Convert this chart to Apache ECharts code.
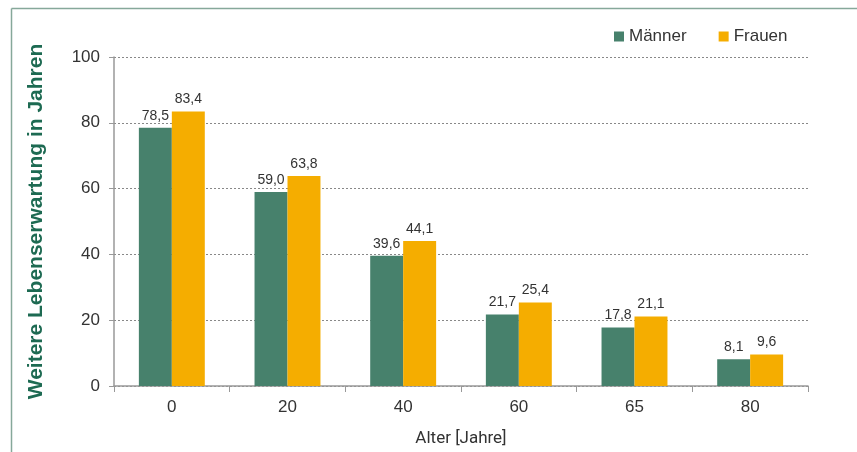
<!DOCTYPE html>
<html><head><meta charset="utf-8">
<script src="https://cdn.jsdelivr.net/npm/echarts@6/dist/echarts.min.js"></script>
<style>html,body{margin:0;padding:0;background:#fff}#c{width:857px;height:452px}</style>
</head><body><div id="c"></div>
<script>
const categories = ['0', '20', '40', '60', '65', '80'];
const maenner = [78.5, 59.0, 39.6, 21.7, 17.8, 8.1];
const frauen = [83.4, 63.8, 44.1, 25.4, 21.1, 9.6];
const seriesNames = ['Männer', 'Frauen'];

const chart = echarts.init(document.getElementById('c'), null, {renderer: 'canvas'});
const fmt = p => p.value.toFixed(1).replace('.', ',');
const lbl = {show: true, position: 'top', distance: 5, fontSize: 14, color: '#333', fontFamily: 'Liberation Sans', formatter: fmt};
chart.setOption({
  animation: false,
  graphic: [
    {type: 'line', shape: {x1: 11.5, y1: 8.5, x2: 857, y2: 8.5}, style: {stroke: '#86a89a', lineWidth: 1.5}},
    {type: 'line', shape: {x1: 11.5, y1: 8.5, x2: 11.5, y2: 452}, style: {stroke: '#86a89a', lineWidth: 1.5}}
  ],
  legend: {
    left: 609, top: 23, icon: 'rect', itemWidth: 10, itemHeight: 10, itemGap: 32,
    textStyle: {fontSize: 17, color: '#333', fontFamily: 'Liberation Sans'},
    data: seriesNames
  },
  grid: {left: 114, right: 49, top: 57, bottom: 66},
  xAxis: {
    type: 'category', data: categories,
    name: 'Alter [Jahre]', nameLocation: 'middle', nameGap: 44,
    nameTextStyle: {fontSize: 17, color: '#333', fontFamily: 'Roboto'},
    axisLine: {lineStyle: {color: '#999', width: 1.5}},
    axisTick: {show: true, length: 6, lineStyle: {color: '#999'}},
    axisLabel: {fontSize: 17, color: '#333', fontFamily: 'Liberation Sans', margin: 13}
  },
  yAxis: {
    type: 'value', min: 0, max: 100, interval: 20,
    name: 'Weitere Lebenserwartung in Jahren', nameLocation: 'middle', nameRotate: 90, nameGap: 67,
    nameTextStyle: {fontSize: 21, fontWeight: 'bold', color: '#1d6a52', fontFamily: 'Liberation Sans'},
    axisLine: {show: true, lineStyle: {color: '#999', width: 1.5}},
    axisTick: {show: true, length: 5, lineStyle: {color: '#999'}},
    axisLabel: {fontSize: 17, color: '#333', fontFamily: 'Liberation Sans', margin: 14},
    splitLine: {lineStyle: {color: '#888', type: [2, 2], width: 1}}
  },
  series: [
    {name: seriesNames[0], type: 'bar', data: maenner, barGap: '0%', barCategoryGap: '43%',
     itemStyle: {color: '#47816c'}, label: lbl},
    {name: seriesNames[1], type: 'bar', data: frauen, barGap: '0%', barCategoryGap: '43%',
     itemStyle: {color: '#f5ad00'}, label: lbl}
  ]
});
</script></body></html>
